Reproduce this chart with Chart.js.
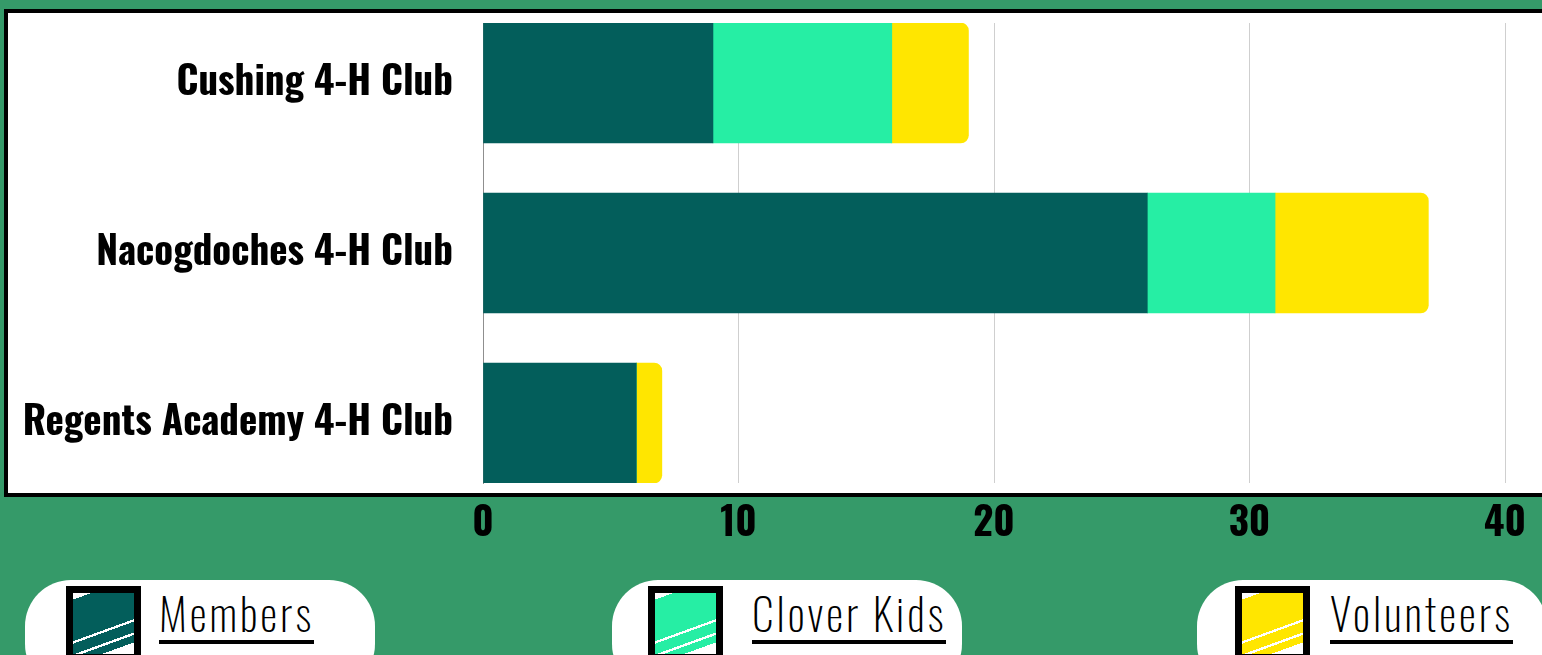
<!DOCTYPE html>
<html lang="en">

<head>
    <meta charset="UTF-8">
    <title>4-H Club Membership</title>
    <style>
        html,
        body {
            margin: 0;
            padding: 0;
            width: 1542px;
            height: 655px;
            overflow: hidden;
            background: #359a69;
        }

        .panel {
            position: absolute;
            left: 4px;
            top: 9px;
            width: 1580px;
            height: 488px;
            box-sizing: border-box;
            border: 4px solid #000;
            background: #fff;
        }

        .chart-wrap {
            position: absolute;
            left: 0;
            top: 0;
            width: 1542px;
            height: 560px;
        }

        .pill {
            position: absolute;
            top: 580px;
            width: 350px;
            height: 110px;
            border-radius: 46px;
            background: #fff;
            display: flex;
            align-items: flex-start;
            box-sizing: border-box;
            white-space: nowrap;
        }

        .pill .swatch {
            width: 75px;
            height: 75px;
            margin-top: 6px;
            box-sizing: border-box;
            border: 7px solid #000;
            flex: none;
        }

        .pill .name {
            margin-top: 10px;
            font-family: Oswald, "Liberation Sans Narrow", "DejaVu Sans Condensed", Lato, sans-serif;
            font-weight: 200;
            font-size: 44px;
            line-height: 46px;
            letter-spacing: 3px;
            color: #000;
            border-bottom: 4px solid #000;
            padding-bottom: 4px;
        }
    </style>
</head>

<body>
    <div class="panel"></div>
    <div class="chart-wrap"><canvas id="myChart01"></canvas></div>
    <div id="legendBox"></div>

    <script src="https://cdn.jsdelivr.net/npm/chart.js"></script>
    <script>
        // 資料
        var categories = ['Cushing 4-H Club', 'Nacogdoches 4-H Club', 'Regents Academy 4-H Club'];
        var seriesNames = ['Members', 'Clover Kids', 'Volunteers'];
        var members = [9, 26, 6];
        var cloverKids = [7, 5, 0];
        var volunteers = [3, 6, 1];
        var xTicks = [0, 10, 20, 30, 40];
        var seriesColors = ['#035e5b', '#26eea4', '#ffe600'];

        var labelFamily = 'Oswald, "Liberation Sans Narrow", "DejaVu Sans Condensed", "Roboto Condensed", "Arial Narrow", "DejaVu Sans", sans-serif';
        var labelSize = 39;

        // 圖例
        var pillLeft = [25, 612, 1197];
        var pillPad = [41, 36, 38];
        var textGap = [18, 29, 20];
        seriesNames.forEach(function (name, i) {
            var c = seriesColors[i];
            var tex = 'linear-gradient(160deg, #fff 0 8%, ' + c + ' 8% 58%, #fff 58% 61%, ' + c + ' 61% 74%, #fff 74% 77%, ' + c + ' 77% 86%, #fff 86%)';
            var strHTML = '<div class="pill" style="left:' + pillLeft[i] + 'px;padding-left:' + pillPad[i] + 'px">' +
                '<div class="swatch" style="background:' + tex + '"></div>' +
                '<span class="name" style="margin-left:' + textGap[i] + 'px">' + name + '</span></div>';
            document.getElementById('legendBox').insertAdjacentHTML('beforeend', strHTML);
        });

        var ctx01 = document.getElementById('myChart01');
        var chart01 = new Chart(ctx01, {
            type: 'bar',
            data: {
                labels: categories,
                datasets: [{
                    label: seriesNames[0],
                    data: members,
                    backgroundColor: seriesColors[0]
                }, {
                    label: seriesNames[1],
                    data: cloverKids,
                    backgroundColor: seriesColors[1]
                }, {
                    label: seriesNames[2],
                    data: volunteers,
                    backgroundColor: seriesColors[2],
                    borderRadius: 8,
                    borderSkipped: 'start'
                }]
            },
            options: {
                indexAxis: 'y',
                responsive: true,
                maintainAspectRatio: false,
                animation: false,
                layout: { padding: { left: 0, right: 37, top: 23, bottom: 0 } },
                datasets: { bar: { barThickness: 120 } },
                plugins: {
                    legend: { display: false },
                    tooltip: { enabled: false }
                },
                scales: {
                    x: {
                        stacked: true,
                        min: xTicks[0],
                        max: xTicks[xTicks.length - 1],
                        ticks: {
                            stepSize: xTicks[1] - xTicks[0],
                            color: '#000',
                            padding: 18,
                            font: { family: labelFamily, size: labelSize, weight: 'bold' }
                        },
                        grid: { color: '#cfcfcf', drawTicks: false },
                        border: { display: false },
                        afterFit: function (s) {
                            s.height = 77;
                            s.paddingLeft = 0;
                            s.paddingRight = 0;
                        }
                    },
                    y: {
                        stacked: true,
                        offset: false,
                        grid: { display: false, drawTicks: false },
                        border: { display: true, color: '#8f8f8f', width: 1 },
                        ticks: {
                            color: '#000',
                            padding: 30,
                            font: { family: labelFamily, size: labelSize, weight: 'bold' }
                        },
                        afterFit: function (s) {
                            s.width = 483;
                            s.paddingTop = 0;
                            s.paddingBottom = 0;
                        },
                        // 讓上下兩條長條貼齊圖表邊界
                        afterBuildTicks: function (s) {
                            s._startValue = -0.353;
                            s._valueRange = 2.706;
                        }
                    }
                }
            }
        });
    </script>
</body>

</html>
